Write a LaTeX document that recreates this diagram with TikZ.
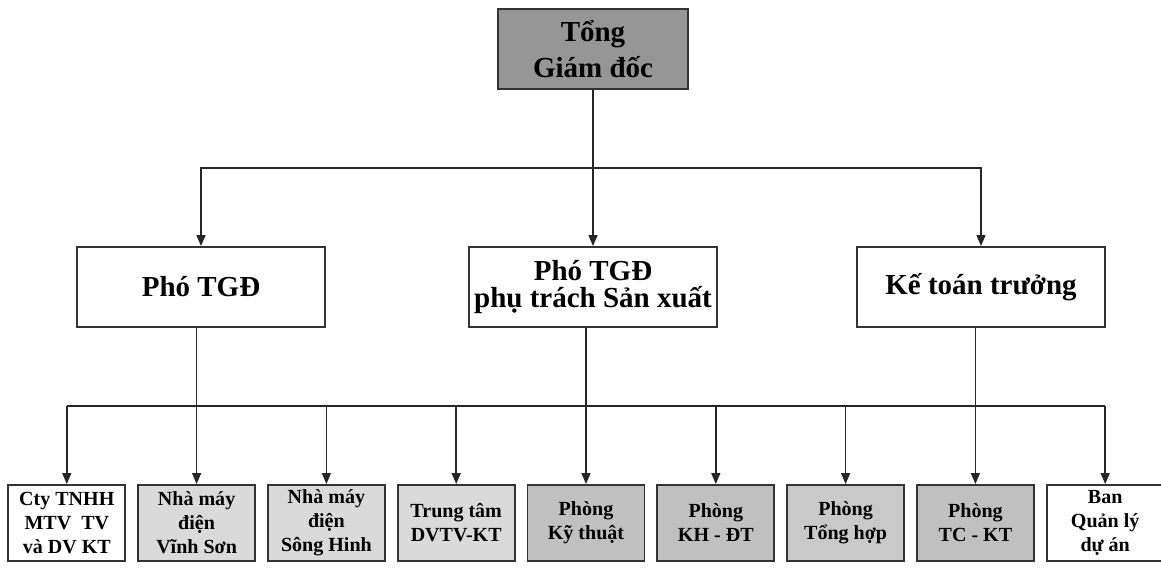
\documentclass[tikz,border=0pt]{standalone}
\usepackage{fontspec}
\setmainfont{Liberation Serif}
\usetikzlibrary{shapes,arrows.meta,positioning,calc}
\definecolor{topgray}{RGB}{150,150,150}
\definecolor{deptgray}{RGB}{192,192,192}
\definecolor{plantgray}{RGB}{218,218,218}
\tikzset{
  box/.style={rectangle, draw=black!80, line width=1.1pt, align=center, inner sep=1pt},
  bigbox/.style={box, minimum width=4.96cm, minimum height=1.6cm, font=\bfseries\fontsize{16.5}{15.5}\selectfont},
  unitbox/.style={box, minimum width=2.34cm, minimum height=1.52cm, font=\bfseries\fontsize{11.4}{13.6}\selectfont},
  link/.style={draw=black!85, line width=0.85pt},
  arr/.style={link, -{Triangle[length=2.2mm,width=1.8mm]}}
}
\begin{document}
\begin{tikzpicture}[node distance=2.596cm]
\useasboundingbox (0,0) rectangle (23.22,-11.38);
% management
\node (tgd) [bigbox, fill=topgray, minimum width=3.8cm, font=\bfseries\fontsize{16.5}{20.5}\selectfont] at (11.86,-0.98) {Tổng\\Giám đốc};
\node (phosx) [bigbox, node distance=4.76cm, below of=tgd] {Phó TGĐ\\phụ trách Sản xuất};
\node (pho) [bigbox, node distance=7.84cm, left of=phosx] {Phó TGĐ};
\node (ktt) [bigbox, node distance=7.76cm, right of=phosx] {Kế toán trưởng};
% units
\node (kythuat) [unitbox, fill=deptgray] at (11.72,-10.46) {Phòng\\Kỹ thuật};
\node (trungtam) [unitbox, fill=plantgray, left of=kythuat] {Trung tâm\\DVTV-KT};
\node (songhinh) [unitbox, fill=plantgray, left of=trungtam] {Nhà máy\\điện\\Sông Hinh};
\node (vinhson) [unitbox, fill=plantgray, left of=songhinh] {Nhà máy\\điện\\Vĩnh Sơn};
\node (cty) [unitbox, fill=white, left of=vinhson] {Cty TNHH\\MTV~~TV\\và DV KT};
\node (khdt) [unitbox, fill=deptgray, right of=kythuat] {Phòng\\KH - ĐT};
\node (tonghop) [unitbox, fill=deptgray!85, right of=khdt] {Phòng\\Tổng hợp};
\node (tckt) [unitbox, fill=deptgray, right of=tonghop] {Phòng\\TC - KT};
\node (ban) [unitbox, fill=white, right of=tckt] {Ban\\Quản lý\\dự án};

\coordinate (bus1) at ($(tgd.south)!0.5!(phosx.north)$);
\coordinate (bus2) at ($(phosx.south)!0.5!(kythuat.north)$);

\draw [arr] (tgd) -- (phosx);
\draw [arr] (bus1) -| (pho.north);
\draw [arr] (bus1) -| (ktt.north);

\draw [link] (cty.north |- bus2) -- (ban.north |- bus2);
\draw [arr] (pho.south -| vinhson.north) -- (vinhson.north);
\draw [arr] (phosx.south -| kythuat.north) -- (kythuat.north);
\draw [arr] (ktt.south -| tckt.north) -- (tckt.north);
\draw [arr] (cty.north |- bus2) -- (cty.north);
\draw [arr] (songhinh.north |- bus2) -- (songhinh.north);
\draw [arr] (trungtam.north |- bus2) -- (trungtam.north);
\draw [arr] (khdt.north |- bus2) -- (khdt.north);
\draw [arr] (tonghop.north |- bus2) -- (tonghop.north);
\draw [arr] (ban.north |- bus2) -- (ban.north);
\end{tikzpicture}
\end{document}
